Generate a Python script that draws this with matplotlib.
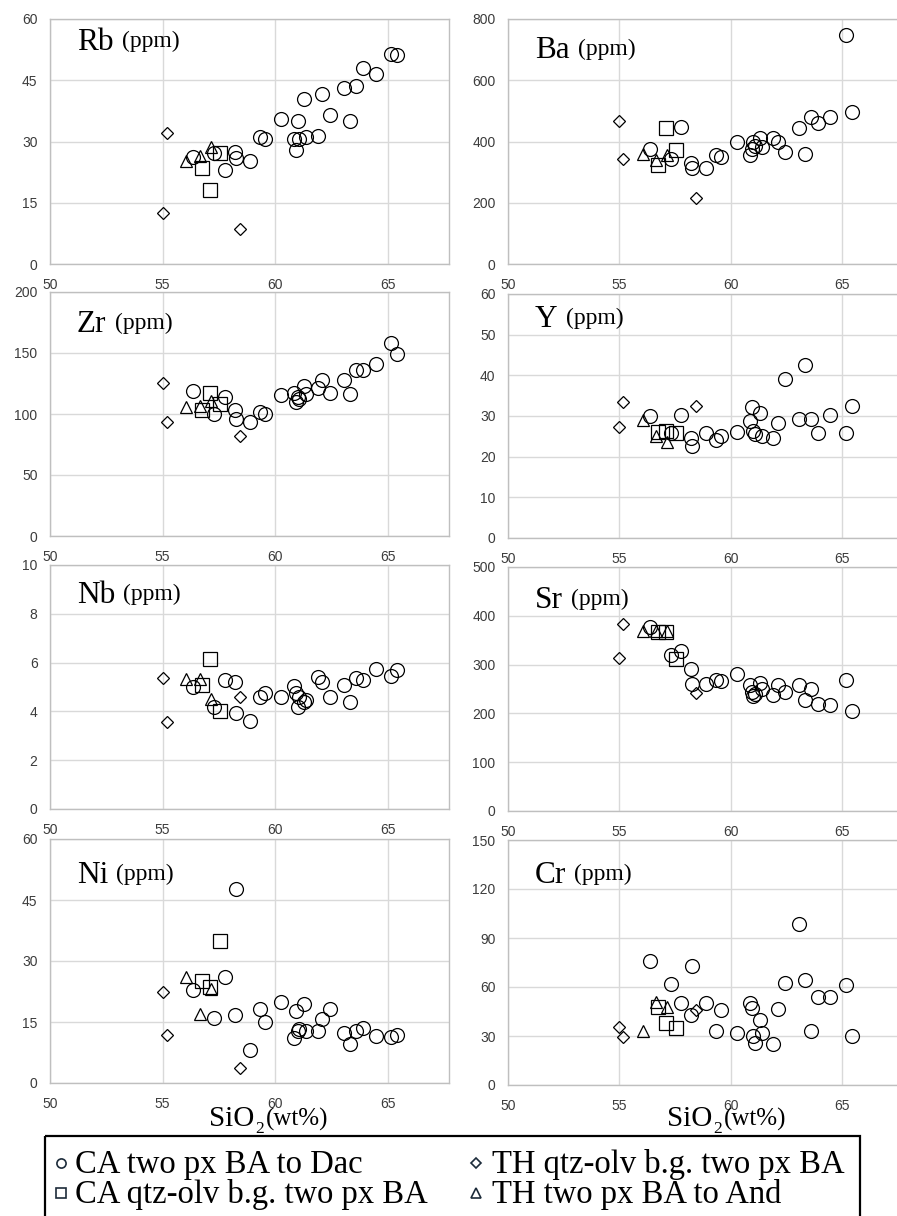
import matplotlib
matplotlib.use('Agg')
import matplotlib.pyplot as plt
import numpy as np
from matplotlib.patches import Rectangle

plt.rcParams['font.family'] = ['Liberation Sans', 'DejaVu Sans']

# ---------------- data ----------------
# SiO2 (wt%) of each group
SIO2_CA = [56.37, 57.3, 57.78, 58.22, 58.27, 58.9, 59.35, 59.55, 60.27, 60.85,
           60.95, 61.0, 61.07, 61.3, 61.38, 61.9, 62.1, 62.42, 63.05, 63.32,
           63.6, 63.93, 64.47, 65.15, 65.42]
SIO2_CAQ = [56.75, 57.1, 57.55]
SIO2_THQ = [55.0, 55.18, 58.45]
SIO2_TH = [56.05, 56.65, 57.15]

RB_CA = [26.1, 27.3, 23.0, 27.5, 26.0, 25.2, 31.2, 30.6, 35.5, 30.5, 27.9, 35.1,
         30.7, 40.3, 31.2, 31.3, 41.6, 36.5, 43.0, 35.1, 43.7, 47.9, 46.5, 51.4, 51.2]
RB_CAQ = [23.4, 18.1, 27.3]
RB_THQ = [12.4, 32.0, 8.5]
RB_TH = [25.3, 26.4, 28.7]

BA_CA = [374, 342, 448, 331, 312, 312, 356, 350, 399, 356, 377, 398, 385, 413, 383,
         413, 400, 367, 445, 359, 479, 461, 479, 748, 497]
BA_CAQ = [323, 445, 372]
BA_THQ = [468, 342, 214]
BA_TH = [359, 340, 356]

ZR_CA = [119, 100, 114, 103, 96, 93.6, 101.8, 100, 115.4, 117, 110, 114, 112.5,
         123, 116, 121.7, 127.7, 117.3, 128.2, 116, 136.4, 136.4, 141.3, 158.3, 149]
ZR_CAQ = [103, 117, 108]
ZR_THQ = [125, 93.6, 82]
ZR_TH = [106, 106.4, 111]

Y_CA = [29.9, 25.9, 30.3, 24.5, 22.5, 25.9, 24.1, 25.1, 26.1, 28.8, 32.3, 26.2,
        25.6, 30.7, 25.0, 24.5, 28.2, 39.1, 29.2, 42.5, 29.2, 25.9, 30.3, 25.9, 32.5]
Y_CAQ = [26.0, 26.3, 25.8]
Y_THQ = [27.2, 33.4, 32.5]
Y_TH = [29.0, 25.1, 23.7]

NB_CA = [5.02, 4.17, 5.29, 5.22, 3.93, 3.59, 4.61, 4.77, 4.61, 5.05, 4.75, 4.2,
         4.61, 4.4, 4.47, 5.43, 5.22, 4.61, 5.09, 4.4, 5.36, 5.27, 5.73, 5.46, 5.68]
NB_CAQ = [5.09, 6.13, 4.0]
NB_THQ = [5.36, 3.56, 4.57]
NB_TH = [5.32, 5.32, 4.5]

SR_CA = [377, 319, 328, 290, 260, 261, 268, 266, 280, 258, 244, 235, 240, 263, 249,
         237, 258, 244, 258, 227, 249, 219, 217, 268, 205]
SR_CAQ = [367, 367, 312]
SR_THQ = [314, 383, 242]
SR_TH = [368, 368, 368]

NI_CA = [22.9, 16.0, 26.0, 16.8, 47.6, 8.2, 18.2, 14.9, 19.8, 11.0, 17.6, 12.9,
         13.3, 19.5, 12.9, 12.7, 15.7, 18.2, 12.3, 9.7, 12.9, 13.5, 11.6, 11.3, 11.9]
NI_CAQ = [25.0, 23.7, 34.8]
NI_THQ = [22.5, 11.9, 3.7]
NI_TH = [26.0, 17.0, 23.0]

CR_CA = [75.9, 61.8, 50.4, 42.9, 73.1, 50.0, 33.3, 45.9, 31.6, 50.4, 46.9, 30.0,
         25.5, 39.8, 31.6, 25.1, 46.3, 62.2, 98.6, 64.3, 33.3, 54.1, 54.1, 61.2, 30.0]
CR_CAQ = [48.0, 37.8, 34.7]
CR_THQ = [35.7, 29.6, 45.9]
CR_TH = [33.3, 51.0, 48.0]

ELEMENTS = ['Rb', 'Ba', 'Zr', 'Y', 'Nb', 'Sr', 'Ni', 'Cr']
UNIT = '(ppm)'
Y_MAX = [60, 800, 200, 60, 10, 500, 60, 150]
Y_STEP = [15, 200, 50, 10, 2, 100, 15, 30]
X_TICKS = [50, 55, 60, 65]
LEGEND_LABELS = ['CA two px BA to Dac', 'CA qtz-olv b.g. two px BA',
                 'TH qtz-olv b.g. two px BA', 'TH two px BA to And']
XLABEL_MAIN = 'SiO'
XLABEL_SUB = '2'
XLABEL_UNIT = '(wt%)'

VALUES = {
    'Rb': (RB_CA, RB_CAQ, RB_THQ, RB_TH),
    'Ba': (BA_CA, BA_CAQ, BA_THQ, BA_TH),
    'Zr': (ZR_CA, ZR_CAQ, ZR_THQ, ZR_TH),
    'Y': (Y_CA, Y_CAQ, Y_THQ, Y_TH),
    'Nb': (NB_CA, NB_CAQ, NB_THQ, NB_TH),
    'Sr': (SR_CA, SR_CAQ, SR_THQ, SR_TH),
    'Ni': (NI_CA, NI_CAQ, NI_THQ, NI_TH),
    'Cr': (CR_CA, CR_CAQ, CR_THQ, CR_TH),
}
SIO2 = (SIO2_CA, SIO2_CAQ, SIO2_THQ, SIO2_TH)

# ---------------- style / layout ----------------
W, H = 897, 1216
fig = plt.figure(figsize=(W / 100, H / 100), dpi=100)

LAYOUT = [(50, 19, 449, 264), (508, 19, 903, 264),
          (50, 292, 449, 536), (508, 294, 903, 538),
          (50, 565, 449, 809), (508, 567, 903, 811),
          (50, 839, 449, 1083), (508, 840, 903, 1085)]
TITLE_BASE = [31, 39, 40, 33, 38, 41, 44, 43]
MARKERS = [('o', 10.0), ('s', 9.4), ('D', 5.9), ('^', 9.0)]
SERIF = ['Liberation Serif', 'DejaVu Serif']
GRID_C = '#d9d9d9'
SPINE_C = '#bfbfbf'


def add_ax(l, t, r, b):
    return fig.add_axes([l / W, 1 - b / H, (r - l) / W, (b - t) / H])


titles = []
for i, el in enumerate(ELEMENTS):
    l, t, r, b = LAYOUT[i]
    ax = add_ax(l, t, r, b)
    ax.set_xlim(50, 67.73)
    ax.set_ylim(0, Y_MAX[i])
    ax.set_xticks(X_TICKS)
    ax.set_yticks(np.arange(0, Y_MAX[i] + 0.001, Y_STEP[i]))
    ax.grid(True, color=GRID_C, lw=1.0, zorder=0)
    ax.set_axisbelow(True)
    for s in ax.spines.values():
        s.set_color(SPINE_C)
        s.set_linewidth(1.0)
    ax.tick_params(length=0, labelsize=10, labelcolor='#3c3c3c')
    ax.tick_params(axis='x', pad=10)
    ax.tick_params(axis='y', pad=9)
    for (mk, ms), xs, ys in zip(MARKERS, SIO2, VALUES[el]):
        ax.plot(xs, ys, linestyle='none', marker=mk, markersize=ms,
                markerfacecolor='none', markeredgecolor='black',
                markeredgewidth=0.9, zorder=3, clip_on=False)
    w_px = r - l
    h_px = b - t
    tt = ax.text(27 / w_px, 1 - TITLE_BASE[i] / h_px, el, transform=ax.transAxes,
                 ha='left', va='baseline', fontsize=22.5, family=SERIF,
                 color='black', zorder=5)
    titles.append((tt, ax))

# overlay axes in pixel coordinates for labels / legend
lax = fig.add_axes([0, 0, 1, 1], zorder=10)
lax.set_xlim(0, W)
lax.set_ylim(H, 0)
lax.axis('off')

# x-axis labels
xl_main = []
for x0 in (209, 667):
    t1 = lax.text(x0, 1126, XLABEL_MAIN, ha='left', va='baseline', fontsize=21,
                  family=SERIF)
    xl_main.append(t1)

# legend box
lax.add_patch(Rectangle((45, 1136), 815, 120, fill=False, lw=1.6,
                        edgecolor='black', clip_on=True))
LEG_POS = [(61, 75, 1173), (61, 75, 1203), (476, 492, 1173), (476, 492, 1203)]
LEG_MS = [6.6, 6.6, 4.6, 6.6]
for (mk, _), ms, lab, (mx, tx, ty) in zip(MARKERS, LEG_MS, LEGEND_LABELS, LEG_POS):
    lax.plot([mx], [ty - 10], linestyle='none', marker=mk, markersize=ms,
             markerfacecolor='none', markeredgecolor='#1c2b3a',
             markeredgewidth=1.2)
    lax.text(tx, ty, lab, ha='left', va='baseline', fontsize=23.5, family=SERIF)

# measure text to place units right after the main text
fig.canvas.draw()
rend = fig.canvas.get_renderer()
for tt, ax in titles:
    bb = tt.get_window_extent(rend)
    xb, yb = ax.transAxes.transform(tt.get_position())
    fig.text((bb.x1 + 8) / W, (yb + 3) / H, UNIT, ha='left', va='baseline',
             fontsize=17, family=SERIF, zorder=6)
for t1 in xl_main:
    bb = t1.get_window_extent(rend)
    x_end = lax.transData.inverted().transform((bb.x1, bb.y0))[0]
    t2 = lax.text(x_end + 0.5, 1133, XLABEL_SUB, ha='left', va='baseline',
                  fontsize=12.5, family=SERIF)
    fig.canvas.draw()
    bb2 = t2.get_window_extent(rend)
    x_end2 = lax.transData.inverted().transform((bb2.x1, bb2.y0))[0]
    lax.text(x_end2 + 2, 1126, XLABEL_UNIT, ha='left', va='baseline',
             fontsize=18, family=SERIF)

fig.savefig('out.png', dpi=100)
